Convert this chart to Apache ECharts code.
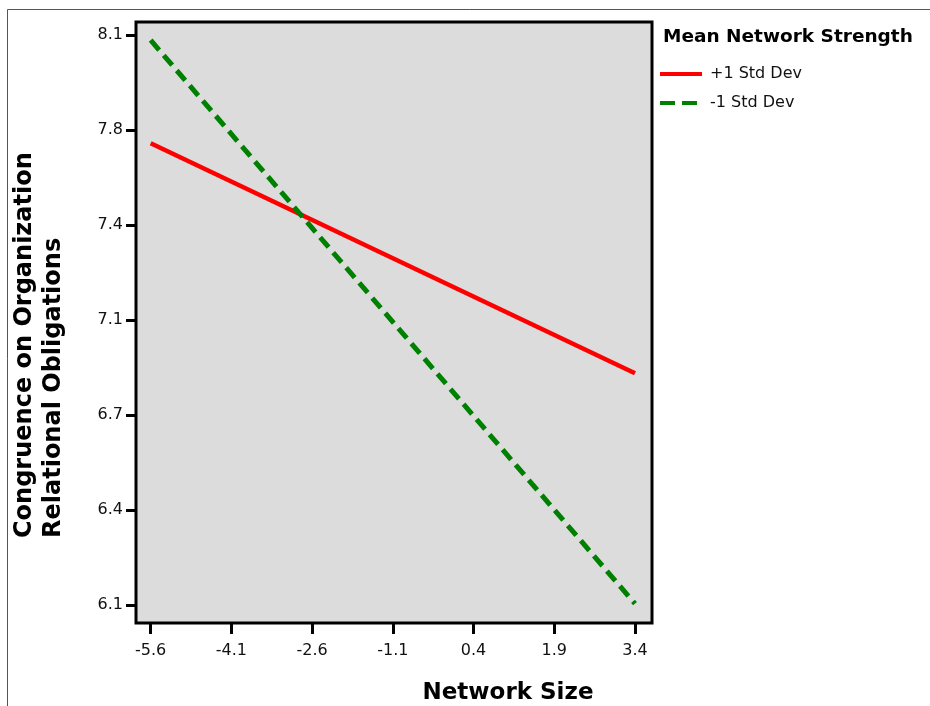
<!DOCTYPE html>
<html>
<head>
<meta charset="utf-8">
<script src="https://cdn.jsdelivr.net/npm/echarts@6/dist/echarts.min.js"></script>
<style>
  html, body { margin: 0; padding: 0; background: #fff; }
  #chart { width: 930px; height: 706px; }
</style>
</head>
<body>
<div id="chart"></div>
<script>
// network size values at the two ends of each line
const networkSize = [-5.6, 3.4]
const plusOneSD = [7.713, 6.890]
const minusOneSD = [8.082, 6.065]

const xTicks = [-5.6, -4.1, -2.6, -1.1, 0.4, 1.9, 3.4]
const yTicks = [6.06, 6.40, 6.74, 7.08, 7.42, 7.76, 8.10]
const yTickLabels = ['6.1', '6.4', '6.7', '7.1', '7.4', '7.8', '8.1']

const seriesNames = ['+1 Std Dev', '-1 Std Dev']

const chart = echarts.init(document.getElementById('chart'))

const font = 'DejaVu Sans'

const option = {
  animation: false,
  textStyle: { fontFamily: font },
  //外框和标题
  graphic: [
    {
      type: 'rect',
      shape: { x: 7.5, y: 9.5, width: 1000, height: 1000 },
      style: { fill: 'none', stroke: '#555', lineWidth: 1 },
      silent: true
    },
    {
      type: 'text',
      x: 663,
      y: 28,
      style: {
        text: 'Mean Network Strength',
        font: 'bold 18.5px "DejaVu Sans"',
        fill: '#000',
        textVerticalAlign: 'top'
      }
    },
    {
      type: 'text',
      x: 508,
      y: 693,
      style: {
        text: 'Network Size',
        font: 'bold 23px "DejaVu Sans"',
        fill: '#000',
        textAlign: 'center',
        textVerticalAlign: 'middle'
      }
    },
    {
      type: 'text',
      x: 10,
      y: 538,
      rotation: Math.PI / 2,
      style: {
        text: 'Congruence on Organization\nRelational Obligations',
        font: 'bold 24px "DejaVu Sans"',
        lineHeight: 29,
        fill: '#000',
        textAlign: 'left',
        textVerticalAlign: 'top'
      }
    }
  ],
  legend: {
    data: [
      { name: seriesNames[0] },
      { name: seriesNames[1], lineStyle: { type: [15, 7] } }
    ],
    orient: 'vertical',
    left: 658,
    top: 66,
    padding: 0,
    itemWidth: 42,
    itemHeight: 14,
    itemGap: 13,
    itemStyle: { opacity: 0, borderWidth: 0 },
    lineStyle: { width: 4 },
    textStyle: { fontSize: 16, color: '#111', fontFamily: font, padding: [0, 0, 0, 3] }
  },
  grid: {
    left: 136,
    top: 22,
    right: 278,
    bottom: 83,
    show: true,
    backgroundColor: '#dcdcdc',
    borderColor: '#000',
    borderWidth: 3
  },
  xAxis: {
    type: 'value',
    min: -5.873,
    max: 3.716,
    axisLine: { show: false, onZero: false },
    splitLine: { show: false },
    axisTick: {
      show: true,
      customValues: xTicks,
      length: 11,
      lineStyle: { color: '#000', width: 3 }
    },
    axisLabel: {
      customValues: xTicks,
      margin: 20,
      fontSize: 16,
      color: '#111',
      fontFamily: font,
      formatter: v => v.toFixed(1)
    }
  },
  yAxis: {
    type: 'value',
    min: 5.996,
    max: 8.147,
    axisLine: { show: false, onZero: false },
    splitLine: { show: false },
    axisTick: {
      show: true,
      customValues: yTicks,
      length: 10,
      lineStyle: { color: '#000', width: 3 }
    },
    axisLabel: {
      customValues: yTicks,
      margin: 13,
      fontSize: 16,
      color: '#111',
      fontFamily: font,
      formatter: v => {
        const i = yTicks.findIndex(t => Math.abs(t - v) < 1e-6)
        return i >= 0 ? yTickLabels[i] : ''
      }
    }
  },
  series: [
    {
      name: seriesNames[0],
      type: 'line',
      data: networkSize.map((x, i) => [x, plusOneSD[i]]),
      symbol: 'none',
      color: '#ff0000',
      lineStyle: { color: '#ff0000', width: 4.5, cap: 'butt' }
    },
    {
      name: seriesNames[1],
      type: 'line',
      data: networkSize.map((x, i) => [x, minusOneSD[i]]),
      symbol: 'none',
      color: '#008000',
      lineStyle: { color: '#008000', width: 5, type: [13, 7], cap: 'butt' }
    }
  ]
}

chart.setOption(option)
</script>
</body>
</html>
